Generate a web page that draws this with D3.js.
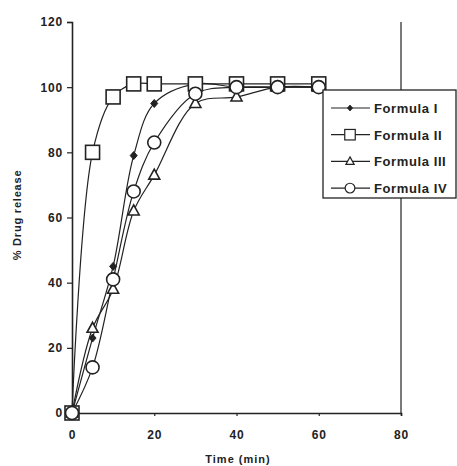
<!DOCTYPE html>
<html>
<head>
<meta charset="utf-8">
<script src="https://cdn.jsdelivr.net/npm/d3@7"></script>
<style>
  body { margin: 0; background: #fff; }
  text { font-family: "Liberation Sans", Arial, sans-serif; font-weight: bold; fill: #222; }
</style>
</head>
<body>
<svg width="457" height="466"></svg>
<script>
(function () {
    var times = [0, 5, 10, 15, 20, 30, 40, 50, 60];
    var formula1 = [0, 23, 45, 79, 95, 101, 100, 100, 100];
    var formula2 = [0, 80, 97, 101, 101, 101, 101, 101, 101];
    var formula3 = [0, 26, 38, 62, 73, 95, 97, 100, 100];
    var formula4 = [0, 14, 41, 68, 83, 98, 100, 100, 100];
    var seriesNames = ["Formula I", "Formula II", "Formula III", "Formula IV"];
    var markers = ["diamond", "square", "triangle", "circle"];
    var xTicks = [0, 20, 40, 60, 80];
    var yTicks = [0, 20, 40, 60, 80, 100, 120];

    var ink = "#222";
    var svg = d3.select("svg");

    var x = d3.scaleLinear().domain([0, 80]).range([72, 401]);
    var y = d3.scaleLinear().domain([0, 120]).range([413, 22]);

    var series = [formula1, formula2, formula3, formula4].map(function (vals, i) {
        return {
            name: seriesNames[i],
            marker: markers[i],
            points: vals.map(function (v, j) { return [times[j], v]; })
        };
    });

    // right frame line
    svg.append("line")
        .attr("x1", x(80)).attr("x2", x(80))
        .attr("y1", y(120)).attr("y2", y(0))
        .attr("stroke", ink).attr("stroke-width", 1.2);

    var yAxis = svg.append("g")
        .attr("transform", "translate(" + x(0) + ",0)")
        .call(d3.axisLeft(y).tickValues(yTicks).tickSize(5).tickPadding(4));
    var xAxis = svg.append("g")
        .attr("transform", "translate(0," + y(0) + ")")
        .call(d3.axisBottom(x).tickValues(xTicks).tickSize(3).tickPadding(14));
    [xAxis, yAxis].forEach(function (g) {
        g.select(".domain").attr("stroke", ink).attr("stroke-width", 1.6);
        g.selectAll(".tick line").attr("stroke", ink).attr("stroke-width", 1.2);
        g.selectAll(".tick text").style("font-size", "12px")
            .style("letter-spacing", "0.8px").attr("fill", ink);
    });

    var line = d3.line()
        .x(function (d) { return x(d[0]); })
        .y(function (d) { return y(d[1]); })
        .curve(d3.curveCatmullRom.alpha(0.5));

    svg.append("g").selectAll("path")
        .data(series)
        .enter().append("path")
        .attr("d", function (d) { return line(d.points); })
        .attr("fill", "none")
        .attr("stroke", ink)
        .attr("stroke-width", 1.2);

    function drawMarker(g, type) {
        if (type === "square") {
            g.append("rect").attr("x", -7).attr("y", -7).attr("width", 14).attr("height", 14)
                .attr("fill", "#fff").attr("stroke", ink).attr("stroke-width", 1.6);
        } else if (type === "circle") {
            g.append("circle").attr("r", 6.5)
                .attr("fill", "#fff").attr("stroke", ink).attr("stroke-width", 1.6);
        } else if (type === "triangle") {
            g.append("path").attr("d", "M0,-6L5.5,4L-5.5,4Z")
                .attr("fill", "#fff").attr("stroke", ink).attr("stroke-width", 1.6);
        } else {
            g.append("path").attr("d", "M0,-4L3.5,0L0,4L-3.5,0Z")
                .attr("fill", ink).attr("stroke", ink).attr("stroke-width", 1);
        }
    }

    series.forEach(function (s) {
        svg.append("g").selectAll("g")
            .data(s.points)
            .enter().append("g")
            .attr("transform", function (d) { return "translate(" + x(d[0]) + "," + y(d[1]) + ")"; })
            .each(function () { drawMarker(d3.select(this), s.marker); });
    });

    // legend
    var legend = svg.append("g").attr("transform", "translate(323,90)");
    legend.append("rect")
        .attr("width", 133).attr("height", 108)
        .attr("fill", "#fff").attr("stroke", ink).attr("stroke-width", 1.3);
    series.forEach(function (s, i) {
        var row = legend.append("g").attr("transform", "translate(0," + (18 + i * 26.7) + ")");
        row.append("line").attr("x1", 8).attr("x2", 47)
            .attr("stroke", ink).attr("stroke-width", 1.2);
        var m = row.append("g");
        drawMarker(m, s.marker);
        m.attr("transform", "translate(27,0) scale(0.75)");
        row.append("text").attr("x", 51).attr("y", 5)
            .style("font-size", "13px")
            .style("letter-spacing", "0.6px")
            .text(s.name);
    });

    // axis titles
    svg.append("text")
        .attr("x", 238).attr("y", 463)
        .attr("text-anchor", "middle")
        .style("font-size", "11px")
        .style("letter-spacing", "1px")
        .text("Time (min)");
    svg.append("text")
        .attr("transform", "translate(21,215) rotate(-90)")
        .attr("text-anchor", "middle")
        .style("font-size", "11px")
        .style("letter-spacing", "0.8px")
        .text("% Drug release");
})();
</script>
</body>
</html>
